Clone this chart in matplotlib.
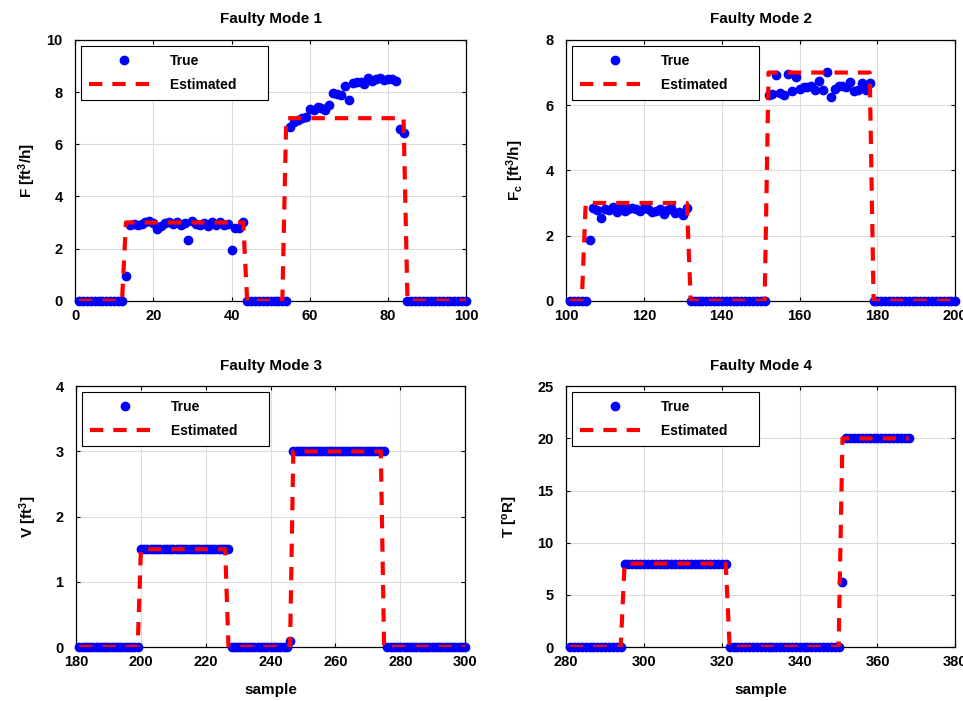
import matplotlib
matplotlib.use("Agg")
import matplotlib.pyplot as plt

plt.rcParams['font.family'] = ['Liberation Sans', 'DejaVu Sans']
plt.rcParams['font.weight'] = 'bold'
plt.rcParams['mathtext.fontset'] = 'custom'
plt.rcParams['mathtext.rm'] = 'Liberation Sans:bold'
plt.rcParams['mathtext.it'] = 'Liberation Sans:bold'
plt.rcParams['mathtext.bf'] = 'Liberation Sans:bold'
plt.rcParams['mathtext.default'] = 'bf'

# ---- Faulty Mode 1 (samples 1..100)
x1 = list(range(1, 101))
true1 = ([0.0] * 12 + [0.95] +
         [2.92, 2.93, 2.90, 2.95, 3.02, 3.05, 2.97, 2.75, 2.88, 2.98,
          3.00, 2.95, 3.03, 2.92, 2.98, 2.32, 3.05, 2.95, 2.90, 2.98,
          2.85, 3.00, 2.92, 3.00, 2.90, 2.95, 1.95, 2.80, 2.78, 3.02] +
         [0.0] * 11 +
         [6.67, 6.85, 6.93, 7.00, 7.05, 7.34, 7.30, 7.44, 7.40, 7.31,
          7.50, 7.96, 7.93, 7.90, 8.22, 7.70, 8.35, 8.40, 8.38, 8.33,
          8.54, 8.42, 8.52, 8.54, 8.48, 8.52, 8.50, 8.44, 6.60, 6.43] +
         [0.0] * 16)
est1_x = [1, 12, 13, 43, 44, 53, 54, 84, 85, 100]
est1_y = [0, 0, 3, 3, 0, 0, 7, 7, 0, 0]

# ---- Faulty Mode 2 (samples 101..200)
x2 = list(range(101, 201))
true2 = ([0.0] * 5 + [1.85] +
         [2.85, 2.77, 2.54, 2.82, 2.78, 2.87, 2.72, 2.88, 2.75, 2.80,
          2.83, 2.80, 2.75, 2.85, 2.80, 2.72, 2.75, 2.80, 2.66, 2.78,
          2.86, 2.68, 2.72, 2.62, 2.84] +
         [0.0] * 20 +
         [6.30, 6.35, 6.94, 6.38, 6.32, 6.97, 6.42, 6.85, 6.50, 6.55,
          6.55, 6.60, 6.45, 6.75, 6.48, 7.03, 6.25, 6.50, 6.58, 6.60,
          6.55, 6.72, 6.42, 6.48, 6.68, 6.45, 6.69] +
         [0.0] * 22)
est2_x = [101, 104, 105, 131, 132, 151, 152, 178, 179, 200]
est2_y = [0, 0, 3, 3, 0, 0, 7, 7, 0, 0]

# ---- Faulty Mode 3 (samples 181..300)
x3 = list(range(181, 301))
true3 = [0.0] * 19 + [1.5] * 28 + [0.0] * 18 + [0.09] + [3.0] * 29 + [0.0] * 25
est3_x = [181, 199, 200, 226, 227, 246, 247, 274, 275, 300]
est3_y = [0, 0, 1.5, 1.5, 0, 0, 3, 3, 0, 0]

# ---- Faulty Mode 4 (samples 281..368)
x4 = list(range(281, 369))
true4 = [0.0] * 14 + [8.0] * 27 + [0.0] * 29 + [6.2] + [20.0] * 17
est4_x = [281, 294, 295, 321, 322, 350, 351, 368]
est4_y = [0, 0, 8, 8, 0, 0, 20, 20]

panels = [
    ("Faulty Mode 1", x1, true1, est1_x, est1_y, (0, 100), range(0, 101, 20),
     (0, 10), range(0, 11, 2), "F [ft$^3$/h]"),
    ("Faulty Mode 2", x2, true2, est2_x, est2_y, (100, 200), range(100, 201, 20),
     (0, 8), range(0, 9, 2), "F$_c$ [ft$^3$/h]"),
    ("Faulty Mode 3", x3, true3, est3_x, est3_y, (180, 300), range(180, 301, 20),
     (0, 4), range(0, 5, 1), "V [ft$^3$]"),
    ("Faulty Mode 4", x4, true4, est4_x, est4_y, (280, 380), range(280, 381, 20),
     (0, 25), range(0, 26, 5), "T [$^o$R]"),
]

positions = [
    [0.078, 0.571, 0.406, 0.372],
    [0.588, 0.571, 0.404, 0.372],
    [0.079, 0.077, 0.404, 0.372],
    [0.588, 0.077, 0.404, 0.372],
]
ylabel_x = [-0.094, -0.103, -0.095, -0.118]

fig = plt.figure(figsize=(9.63, 7.01), dpi=100)

for i, (title, xs, ys, ex, ey, xl, xt, yl, yt, ylab) in enumerate(panels):
    ax = fig.add_axes(positions[i])
    ax.plot(xs, ys, 'o', color='blue', markersize=6, label='True', clip_on=False, zorder=3)
    ax.plot(ex, ey, '--', color='red', linewidth=3, dashes=(3.2, 2.4),
            label='Estimated      ', zorder=4)
    ax.set_xlim(xl)
    ax.set_ylim(yl)
    ax.set_xticks(list(xt))
    ax.set_yticks(list(yt))
    ax.grid(True, color='#dcdcdc', linewidth=0.8)
    ax.set_axisbelow(True)
    ax.tick_params(direction='in', length=3, labelsize=10.5, top=True, right=True)
    ax.tick_params(axis='x', pad=6)
    ax.tick_params(axis='y', pad=9)
    for lab in ax.get_xticklabels() + ax.get_yticklabels():
        lab.set_fontweight('bold')
    for sp in ax.spines.values():
        sp.set_linewidth(0.9)
    ax.set_title(title, fontsize=11, fontweight='bold', pad=12)
    ax.set_ylabel(ylab, fontsize=11, fontweight='bold')
    ax.yaxis.set_label_coords(ylabel_x[i], 0.5)
    if i >= 2:
        ax.set_xlabel("sample", fontsize=11, fontweight='bold', labelpad=10)
    leg = ax.legend(loc='upper left', handlelength=5, fancybox=False,
                    framealpha=1, edgecolor='black', borderpad=0.6,
                    labelspacing=0.7, prop={'weight': 'bold', 'size': 10},
                    borderaxespad=0.4)
    leg.get_frame().set_linewidth(0.8)

fig.savefig("out.png", dpi=100)
